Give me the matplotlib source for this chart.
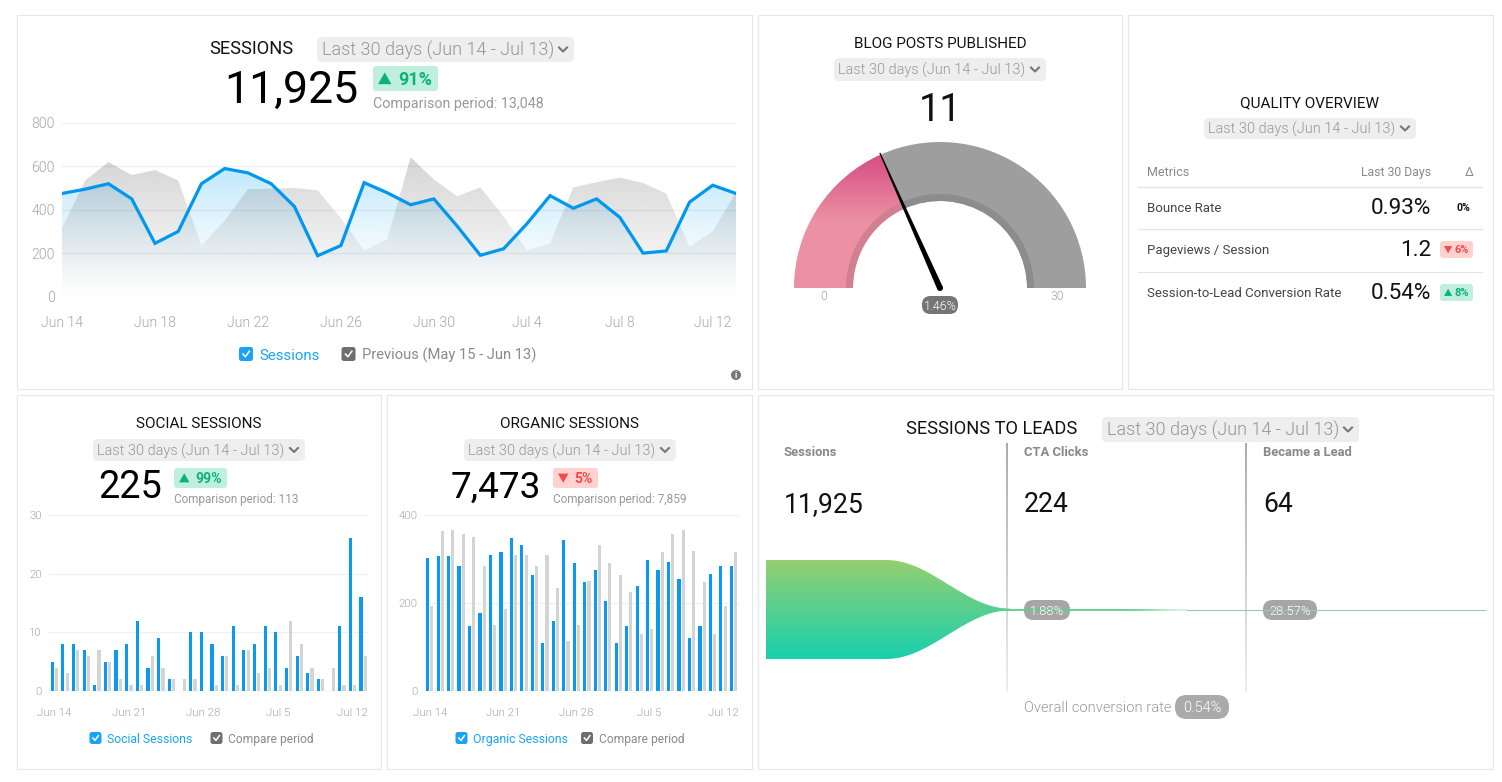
import numpy as np
import matplotlib
matplotlib.use("Agg")
import matplotlib.pyplot as plt
from matplotlib.patches import FancyBboxPatch, Polygon, Rectangle, Wedge, Circle

W, H = 1502, 782
plt.rcParams["font.family"] = ["Roboto", "DejaVu Sans"]

# ── data ─────────────────────────────────────────────────────────────
RANGE_LABEL = "Last 30 days (Jun 14 - Jul 13)"

sessions = [475, 495, 520, 450, 245, 300, 520, 590, 570, 520, 415, 188, 235, 525, 478,
            423, 450, 325, 190, 220, 335, 465, 407, 450, 365, 200, 210, 435, 513, 475]
sessions_prev = [315, 535, 620, 560, 583, 535, 235, 350, 495, 497, 500, 490, 360, 212, 265,
                 642, 540, 462, 503, 370, 212, 245, 503, 527, 548, 523, 475, 230, 300, 480]
sessions_ticks = [0, 4, 8, 12, 16, 20, 24, 28]
sessions_ticklabels = ["Jun 14", "Jun 18", "Jun 22", "Jun 26", "Jun 30", "Jul 4", "Jul 8", "Jul 12"]

social = [5, 8, 8, 7, 1, 5, 7, 8, 12, 4, 9, 2, 0, 10, 10,
          8, 6, 11, 7, 8, 11, 10, 4, 6, 3, 2, 0, 11, 26, 16]
social_prev = [4, 3, 7, 6, 7, 5, 2, 1, 1, 6, 4, 2, 2, 2, 0,
               1, 6, 1, 7, 3, 4, 1, 12, 8, 4, 2, 4, 1, 1, 6]
organic = [303, 306, 306, 283, 147, 178, 308, 317, 348, 331, 263, 108, 158, 344, 292,
           247, 274, 204, 110, 147, 238, 298, 274, 294, 255, 120, 147, 267, 283, 285]
organic_prev = [194, 363, 367, 356, 351, 283, 149, 187, 308, 308, 285, 308, 235, 113, 149,
                251, 331, 292, 263, 224, 130, 140, 315, 356, 367, 319, 247, 130, 194, 317]
bar_ticks = [0, 7, 14, 21, 28]
bar_ticklabels = ["Jun 14", "Jun 21", "Jun 28", "Jul 5", "Jul 12"]

gauge_value = 11
gauge_max = 30

quality_rows = ["Bounce Rate", "Pageviews / Session", "Session-to-Lead Conversion Rate"]
quality_values = ["0.93%", "1.2", "0.54%"]

funnel_stages = ["Sessions", "CTA Clicks", "Became a Lead"]
funnel_values = [11925, 224, 64]
funnel_rates = ["1.88%", "28.57%"]

BLUE = "#0098ee"
LEGEND_BLUE = "#1aa3f5"
BAR_GREY = "#d4d4d4"
TICK_GREY = "#a6a6a6"
GREEN_BG, GREEN_FG = "#c0f0dd", "#0cb377"
RED_BG, RED_FG = "#ffd2d0", "#f24b4b"

fig = plt.figure(figsize=(W / 100, H / 100), dpi=100, facecolor="white")
bg = fig.add_axes([0, 0, 1, 1], zorder=0)
bg.axis("off")


def reset_bg():
    bg.set_xlim(0, W)
    bg.set_ylim(H, 0)


reset_bg()


def axes_px(x0, y0, x1, y1, **kw):
    # y0 is the top edge in image pixels
    return fig.add_axes([x0 / W, 1 - y1 / H, (x1 - x0) / W, (y1 - y0) / H], **kw)


def txt(x, y, s, px, color="#111111", ha="left", weight="normal", ax=None, zorder=10):
    (ax or bg).text(x, y, s, fontsize=px * 0.72, color=color, ha=ha, va="baseline",
                    fontweight=weight, zorder=zorder)


def box(x0, y0, x1, y1, color, r=4, zorder=3):
    bg.add_patch(FancyBboxPatch((x0 + r, y0 + r), x1 - x0 - 2 * r, y1 - y0 - 2 * r,
                                boxstyle=f"round,pad={r},rounding_size={r}",
                                fc=color, ec="none", zorder=zorder))


def dropdown(x0, y0, x1, y1, px):
    box(x0, y0, x1, y1, "#eeeeee", r=5)
    base = (y0 + y1) / 2 + px * 0.36
    txt(x0 + px * 0.3, base, RANGE_LABEL, px, "#969696", weight=300)
    cx, cy = x1 - 11, (y0 + y1) / 2
    bg.plot([cx - 4, cx, cx + 4], [cy - 2, cy + 2, cy - 2], color="#777777", lw=1.5, zorder=10)


def badge(x0, y0, x1, y1, label, up, px, pad=5, gap=0.4):
    bg_c, fg = (GREEN_BG, GREEN_FG) if up else (RED_BG, RED_FG)
    box(x0, y0, x1, y1, bg_c, r=3)
    tw = px * 0.75
    cx, cy = x0 + pad + tw / 2, (y0 + y1) / 2
    if up:
        pts = [(cx - tw / 2, cy + tw * .42), (cx + tw / 2, cy + tw * .42), (cx, cy - tw * .45)]
    else:
        pts = [(cx - tw / 2, cy - tw * .42), (cx + tw / 2, cy - tw * .42), (cx, cy + tw * .45)]
    bg.add_patch(Polygon(pts, fc=fg, ec="none", zorder=9))
    txt(x0 + pad + tw + px * gap, cy + px * 0.36, label, px, fg, weight="bold")


def checkbox(cx, cy, size, color):
    box(cx - size / 2, cy - size / 2, cx + size / 2, cy + size / 2, color, r=2.5)
    s = size * 0.22
    bg.plot([cx - s, cx - s * 0.2, cx + s * 1.1], [cy, cy + s * 0.9, cy - s * 0.9],
            color="white", lw=1.1, zorder=9)


def pill(x0, y0, x1, y1, label, px, color):
    box(x0, y0, x1, y1, color, r=(y1 - y0) / 2 - 0.5, zorder=4)
    txt((x0 + x1) / 2, (y0 + y1) / 2 + px * 0.36, label, px, "white", ha="center", weight=300)


def style_chart(ax, xticks, xlabels, yticks, xpad, ypad, px):
    ax.patch.set_alpha(0)
    for s in ax.spines.values():
        s.set_visible(False)
    ax.set_xticks(xticks, xlabels)
    ax.set_yticks(yticks)
    ax.tick_params(length=0, labelsize=px * 0.72, labelcolor=TICK_GREY)
    ax.tick_params(axis="x", pad=xpad)
    ax.tick_params(axis="y", pad=ypad)
    for lb in ax.get_xticklabels() + ax.get_yticklabels():
        lb.set_fontweight(300)
    ax.yaxis.grid(True, color="black", alpha=0.06, lw=1, zorder=4)
    ax.set_axisbelow(False)


def gradient_fill(ax, xs, ys, rgb, alpha_top, top, power=1.0):
    # vertical alpha gradient clipped to the area below the series
    poly = ax.fill_between(xs, ys, 0, color="none", lw=0)
    a = alpha_top * np.linspace(1, 0, 256).reshape(-1, 1) ** power
    img = np.zeros((256, 1, 4))
    img[..., :3] = matplotlib.colors.to_rgb(rgb)
    img[..., 3] = a
    im = ax.imshow(img, extent=(0, len(xs) - 1, 0, top), aspect="auto", origin="upper", zorder=1)
    path = poly.get_paths()[0]
    im.set_clip_path(path, transform=ax.transData)


# ── cards ────────────────────────────────────────────────────────────
cards = [(17, 15, 752, 389), (758, 15, 1122, 389), (1128, 15, 1493, 389),
         (17, 395, 381, 769), (387, 395, 752, 769), (758, 395, 1493, 769)]
for x0, y0, x1, y1 in cards:
    bg.add_patch(Rectangle((x0, y0), x1 - x0, y1 - y0, fc="white", ec="#e8e8e8", lw=0.9, zorder=1))

# ── sessions ─────────────────────────────────────────────────────────
txt(209, 54, "SESSIONS", 18.3, "#111111")
dropdown(317, 37, 574, 62, 18)
txt(358, 103, "11,925", 44.7, "#000000", ha="right")
badge(373, 66, 438, 91, "91%", True, 18)
txt(373, 108, "Comparison period: 13,048", 14.2, "#999999")

ax = axes_px(62, 123, 736, 296.5)
days = np.arange(len(sessions))
gradient_fill(ax, days, sessions, "#63c6f7", 0.46, 640, power=1.5)
gradient_fill(ax, days, sessions_prev, "#808080", 0.33, 640)
ax.plot(days, sessions, color=BLUE, lw=2.3, zorder=5, solid_joinstyle="miter")
ax.set_xlim(0, 29)
ax.set_ylim(0, 800)
style_chart(ax, sessions_ticks, sessions_ticklabels, [0, 200, 400, 600, 800], 14, 5, 14)

checkbox(246, 354, 14, LEGEND_BLUE)
txt(259, 360, "Sessions", 15, LEGEND_BLUE)
checkbox(348.5, 354, 14, "#6f6f6f")
txt(362, 360, "Previous (May 15 - Jun 13)", 14.8, "#8a8a8a")
bg.add_patch(Circle((736, 375), 5, fc="#777777", ec="none", zorder=5))
txt(736, 378.5, "i", 9, "white", ha="center", weight="bold")

# ── blog posts gauge ─────────────────────────────────────────────────
txt(940, 48, "BLOG POSTS PUBLISHED", 15.2, ha="center")
dropdown(834, 58, 1046, 81, 14.5)
txt(940, 121, str(gauge_value), 38, "#111111", ha="center")

gax = axes_px(790, 140, 1090, 295)
gax.set_xlim(-150, 150)
gax.set_ylim(-7, 148)
gax.axis("off")
R_OUT, R_MID, R_IN = 146, 94, 87
angle = 180 * (1 - gauge_value / gauge_max)
gax.add_patch(Wedge((0, 0), R_OUT, 0, angle, width=R_OUT - R_IN, fc="#9e9e9e", ec="none"))
gax.add_patch(Wedge((0, 0), R_MID, 0, angle, width=R_MID - R_IN, fc="#8c8c8c", ec="none", zorder=3))
pink = Wedge((0, 0), R_OUT, angle, 180, width=R_OUT - R_IN, fc="none", ec="none")
gax.add_patch(pink)
stops = np.linspace(0, 1, 256)
top_c = np.array(matplotlib.colors.to_rgb("#d44a82"))
low_c = np.array(matplotlib.colors.to_rgb("#ec90a3"))
mix = np.clip(stops / 0.5, 0, 1).reshape(-1, 1, 1)
grad = top_c.reshape(1, 1, 3) * (1 - mix) + low_c.reshape(1, 1, 3) * mix
im = gax.imshow(grad, extent=(-150, 0, 0, 137), aspect="auto", origin="upper", zorder=2)
im.set_clip_path(pink)
gax.add_patch(Wedge((0, 0), R_MID, angle, 180, width=R_MID - R_IN, fc="#d08091", ec="none", zorder=3))
gax.set_xlim(-150, 150)
gax.set_ylim(-7, 148)
th = np.radians(angle)
ux, uy = np.cos(th), np.sin(th)
nx, ny = -uy, ux
needle = [(3 * nx, 3 * ny), (-3 * nx, -3 * ny), (148 * ux - .6 * nx, 148 * uy - .6 * ny),
          (148 * ux + .6 * nx, 148 * uy + .6 * ny)]
gax.add_patch(Polygon(needle, fc="black", ec="none", zorder=5))
gax.add_patch(Circle((0, 0), 3, fc="black", ec="none", zorder=5))
txt(824, 300, "0", 12, TICK_GREY, ha="center", weight=300)
txt(1057, 300, str(gauge_max), 12, TICK_GREY, ha="center", weight=300)
pill(922, 296, 958, 314, "1.46%", 12.5, "#757575")

# ── quality overview ─────────────────────────────────────────────────
txt(1310, 107, "QUALITY OVERVIEW", 15.2, ha="center")
dropdown(1204, 118, 1416, 139, 14.5)
txt(1147, 176, "Metrics", 12.5, "#888888")
txt(1431, 176, "Last 30 Days", 12.2, "#888888", ha="right")
txt(1469, 176, "Δ", 12.5, "#888888", ha="center")
for y in (186.5, 228.5, 271.5):
    bg.plot([1138, 1482], [y, y], color="#e4e4e4", lw=0.9, zorder=5)
row_base = [212, 254, 297]
for name, val, base in zip(quality_rows, quality_values, row_base):
    txt(1147, base, name, 13.3, "#444444")
    txt(1431, base + 2, val, 22.5, "#111111", ha="right")
txt(1463, 211, "0%", 10.5, "#111111", ha="center", weight="bold")
badge(1440, 241, 1473, 258, "6%", False, 11, pad=4, gap=0.2)
badge(1440, 284, 1473, 301, "8%", True, 11, pad=4, gap=0.2)

# ── social / organic bars ────────────────────────────────────────────
bar_panels = [
    (199, "SOCIAL SESSIONS", (93, 305), "225", 38, 162, (174, 227), "99%", True,
     "Comparison period: 113", (49, 368.5), social, social_prev, 30, [0, 10, 20, 30],
     "Social Sessions", (95.5, 107, 216.5, 228)),
    (570, "ORGANIC SESSIONS", (464, 676), "7,473", 37, 541, (553, 598), "5%", False,
     "Comparison period: 7,859", (424.5, 738.7), organic, organic_prev, 400, [0, 200, 400],
     "Organic Sessions", (461.5, 473, 587, 599)),
]
for cx, title, dd, big, big_px, big_r, bd, pct, up, comp, xr, vals, prev, ymax, yt, leg, lp in bar_panels:
    txt(cx, 428, title, 15.2, ha="center")
    dropdown(dd[0], 439, dd[1], 461, 14.5)
    txt(big_r, 498, big, big_px, "#000000", ha="right")
    badge(bd[0], 468, bd[1], 488, pct, up, 14)
    txt(bd[0], 503, comp, 11.8, "#999999")
    ax = axes_px(xr[0], 515, xr[1], 691)
    idx = np.arange(len(vals))
    ax.bar(idx - 0.2, vals, width=0.3, color="#0a9bf0", zorder=3)
    ax.bar(idx + 0.2, prev, width=0.3, color=BAR_GREY, zorder=3)
    ax.set_xlim(-0.5, 29.5)
    ax.set_ylim(0, ymax)
    style_chart(ax, bar_ticks, bar_ticklabels, yt, 12, 5, 11.5)
    checkbox(lp[0], 738, 12, LEGEND_BLUE)
    txt(lp[1], 743, leg, 12.2, LEGEND_BLUE)
    checkbox(lp[2], 738, 12, "#6f6f6f")
    txt(lp[3], 743, "Compare period", 12, "#8a8a8a")

# ── sessions to leads funnel ─────────────────────────────────────────
txt(906, 434, "SESSIONS TO LEADS", 18.3)
dropdown(1102, 417, 1359, 442, 18)
col_x = [784, 1024, 1263]
for x, name, val in zip(col_x, funnel_stages, funnel_values):
    txt(x, 456, name, 13, "#888888", weight="bold")
    txt(x, 512, f"{val:,}", 26.5, "#111111")

for x in (1007, 1246):
    fade = np.ones((64, 1, 4))
    fade[..., :3] = 0.66
    fade[..., 3] = np.linspace(0.95, 0.2, 64).reshape(-1, 1)
    bg.imshow(fade, extent=(x - 0.55, x + 0.55, 692, 443), aspect="auto", zorder=2)
reset_bg()

pill(1024, 600, 1070, 620, funnel_rates[0], 13, "#a6a6a6")
pill(1263, 600, 1317, 620, funnel_rates[1], 13, "#a6a6a6")

FY = 609.5
half = 49.5 * np.array(funnel_values) / funnel_values[0]
fx = np.linspace(766, 1010, 300)
t = np.clip((fx - 886) / (1010 - 886), 0, 1)
fh = half[0] + (half[1] - half[0]) * (1 - np.cos(np.pi * t)) / 2
poly = bg.fill_between(fx, FY - fh, FY + fh, color="none", lw=0)
top_c = np.array(matplotlib.colors.to_rgb("#95cf70")).reshape(1, 1, 3)
low_c = np.array(matplotlib.colors.to_rgb("#18d0af")).reshape(1, 1, 3)
mix = np.linspace(0, 1, 256).reshape(-1, 1, 1)
im = bg.imshow(top_c * (1 - mix) + low_c * mix, extent=(766, 1010, FY + half[0], FY - half[0]),
               aspect="auto", zorder=6)
im.set_clip_path(poly.get_paths()[0], transform=bg.transData)
reset_bg()
# thin stream keeps its width until just before the CTA stage ends
tx = np.linspace(1000, 1187, 100)
tt = np.clip((tx - 1120) / 67, 0, 1)
th2 = half[1] + (half[2] - half[1]) * (1 - np.cos(np.pi * tt)) / 2
bg.fill_between(tx, FY - th2, FY + th2, color="#5fcf90", lw=0, zorder=6)
bg.plot([1187, 1485], [FY, FY], color="#8ccfaa", lw=0.8, zorder=6)
txt(1024, 712, "Overall conversion rate", 14.8, "#999999", weight=300)
pill(1175, 695, 1229, 719, "0.54%", 14.5, "#aaaaaa")

fig.savefig("out.png", dpi=100)
